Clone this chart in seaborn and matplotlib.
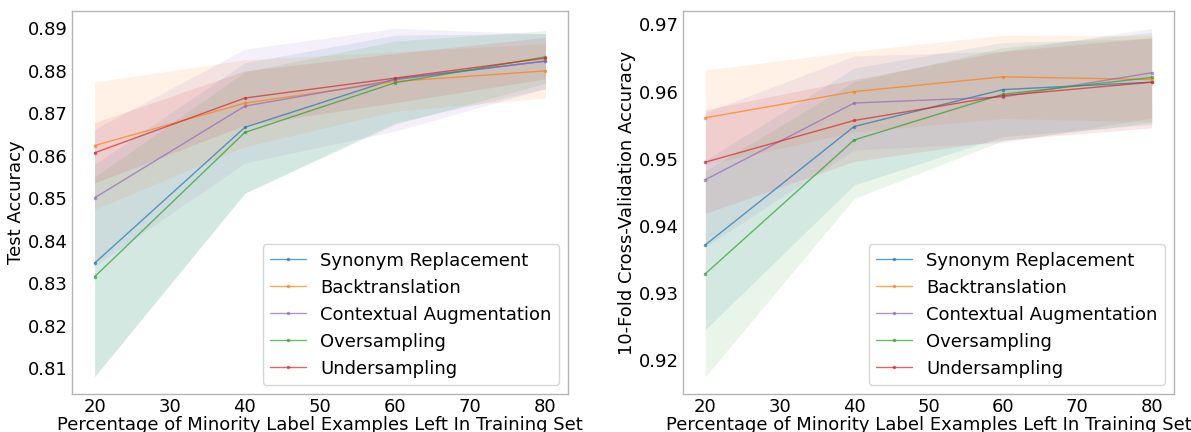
import numpy as np
import pandas as pd
import matplotlib
matplotlib.use("Agg")
import matplotlib.pyplot as plt
import seaborn as sns

sns.set_style("white")
plt.rcParams['font.family'] = ['DejaVu Sans']
plt.rcParams['font.size'] = 13
plt.rcParams['text.color'] = 'black'
plt.rcParams['axes.labelcolor'] = 'black'
plt.rcParams['xtick.color'] = 'black'
plt.rcParams['ytick.color'] = 'black'

x_pct = [20, 40, 60, 80]
methods = ["Synonym Replacement", "Backtranslation", "Contextual Augmentation",
           "Oversampling", "Undersampling"]

# Left: Test accuracy (mean, lower, upper)
test_sr_mean = [0.8347, 0.8667, 0.8781, 0.8823]
test_sr_lo = [0.8080, 0.8512, 0.8678, 0.8758]
test_sr_hi = [0.8580, 0.8819, 0.8884, 0.8888]
test_bt_mean = [0.8624, 0.8724, 0.8775, 0.8800]
test_bt_lo = [0.8474, 0.8622, 0.8705, 0.8736]
test_bt_hi = [0.8774, 0.8826, 0.8845, 0.8864]
test_ca_mean = [0.8501, 0.8717, 0.8779, 0.8823]
test_ca_lo = [0.8340, 0.8583, 0.8658, 0.8758]
test_ca_hi = [0.8662, 0.8851, 0.8900, 0.8887]
test_os_mean = [0.8315, 0.8655, 0.8772, 0.8833]
test_os_lo = [0.8080, 0.8512, 0.8674, 0.8771]
test_os_hi = [0.8550, 0.8798, 0.8870, 0.8895]
test_us_mean = [0.8607, 0.8736, 0.8783, 0.8830]
test_us_lo = [0.8536, 0.8672, 0.8725, 0.8781]
test_us_hi = [0.8678, 0.8800, 0.8841, 0.8879]

# Right: 10-fold CV accuracy
cv_sr_mean = [0.9372, 0.9548, 0.9603, 0.9614]
cv_sr_lo = [0.9246, 0.9461, 0.9533, 0.9551]
cv_sr_hi = [0.9498, 0.9635, 0.9673, 0.9679]
cv_bt_mean = [0.9561, 0.9600, 0.9622, 0.9618]
cv_bt_lo = [0.9491, 0.9540, 0.9560, 0.9555]
cv_bt_hi = [0.9632, 0.9660, 0.9684, 0.9683]
cv_ca_mean = [0.9469, 0.9583, 0.9592, 0.9628]
cv_ca_lo = [0.9369, 0.9513, 0.9524, 0.9561]
cv_ca_hi = [0.9569, 0.9653, 0.9660, 0.9694]
cv_os_mean = [0.9329, 0.9528, 0.9596, 0.9621]
cv_os_lo = [0.9176, 0.9441, 0.9527, 0.9554]
cv_os_hi = [0.9482, 0.9615, 0.9665, 0.9688]
cv_us_mean = [0.9495, 0.9557, 0.9594, 0.9614]
cv_us_lo = [0.9419, 0.9496, 0.9528, 0.9546]
cv_us_hi = [0.9573, 0.9618, 0.9660, 0.9680]

test_data = [(test_sr_mean, test_sr_lo, test_sr_hi), (test_bt_mean, test_bt_lo, test_bt_hi),
             (test_ca_mean, test_ca_lo, test_ca_hi), (test_os_mean, test_os_lo, test_os_hi),
             (test_us_mean, test_us_lo, test_us_hi)]
cv_data = [(cv_sr_mean, cv_sr_lo, cv_sr_hi), (cv_bt_mean, cv_bt_lo, cv_bt_hi),
           (cv_ca_mean, cv_ca_lo, cv_ca_hi), (cv_os_mean, cv_os_lo, cv_os_hi),
           (cv_us_mean, cv_us_lo, cv_us_hi)]

tab = sns.color_palette("tab10")
colors = [tab[0], tab[1], tab[4], tab[2], tab[3]]

fig = plt.figure(figsize=(11.91, 4.32), dpi=100)
ax1 = fig.add_axes([72/1191, 1-394/432, (568-72)/1191, (394-11)/432])
ax2 = fig.add_axes([683/1191, 1-394/432, (1174-683)/1191, (394-11)/432])

def draw(ax, data, ylabel):
    rows = []
    for m, (mean, lo, hi) in zip(methods, data):
        for xi, v in zip(x_pct, mean):
            rows.append({"x": xi, "y": v, "method": m})
    df = pd.DataFrame(rows)
    sns.lineplot(data=df, x="x", y="y", hue="method", hue_order=methods,
                 palette=colors, marker=".", markersize=5, linewidth=1.0,
                 alpha=0.7, markeredgewidth=0, ax=ax, legend=False, errorbar=None)
    for c, (mean, lo, hi) in zip(colors, data):
        ax.fill_between(x_pct, lo, hi, color=c, alpha=0.1, linewidth=0)
    ax.set_xlabel("Percentage of Minority Label Examples Left In Training Set", fontsize=13, labelpad=0)
    ax.set_ylabel(ylabel, fontsize=13, labelpad=2)
    ax.tick_params(axis='both', length=0, labelsize=13, pad=3)
    for s in ax.spines.values():
        s.set_color("#b5b5b5")
        s.set_linewidth(1.0)
    ax.set_xticks([20, 30, 40, 50, 60, 70, 80])
    handles = ax.get_lines()[:5]
    ax.legend(handles, methods, loc="lower right", fontsize=13, frameon=True)

draw(ax1, test_data, "Test Accuracy")
draw(ax2, cv_data, "10-Fold Cross-Validation Accuracy")
ax1.set_yticks([0.81, 0.82, 0.83, 0.84, 0.85, 0.86, 0.87, 0.88, 0.89])
ax2.set_yticks([0.92, 0.93, 0.94, 0.95, 0.96, 0.97])

fig.savefig("out.png", dpi=100)
